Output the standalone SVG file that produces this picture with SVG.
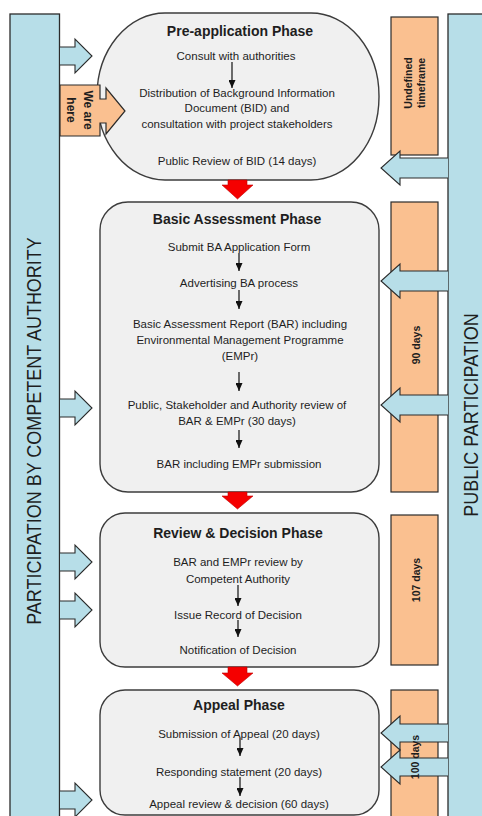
<svg xmlns="http://www.w3.org/2000/svg" width="482" height="816" viewBox="0 0 482 816">
<defs>
<style>
.bar{fill:#b7dee8;stroke:#2b2b2b;stroke-width:1.3}
.ora{fill:#fac090;stroke:#2b2b2b;stroke-width:1.2}
.box{fill:#f0f0f0;stroke:#3c3c3c;stroke-width:1.4}
.barr{fill:#b7dee8;stroke:#2b2b2b;stroke-width:1.1}
.red{fill:#f50000;stroke:#c00000;stroke-width:0.6}
.step{stroke:#111;stroke-width:1.2;fill:none;marker-end:url(#ah)}
text{font-family:"Liberation Sans",Arial,sans-serif;fill:#1e1e1e}
.t{font-size:11.5px;text-anchor:middle}
.h{font-size:14px;font-weight:bold;text-anchor:middle}
.v{font-size:18px;text-anchor:middle}
.d{font-size:10.5px;font-weight:bold;text-anchor:middle}
</style>
<marker id="ah" markerWidth="8" markerHeight="7" refX="8" refY="3.5" orient="auto" markerUnits="userSpaceOnUse" viewBox="0 0 8 7">
<path d="M0,0 L8,3.5 L0,7 Z" fill="#111"/>
</marker>
</defs>

<g id="left-bar">
<rect class="bar" x="10" y="14" width="49.5" height="810"/>
<text class="v" transform="translate(34,431) rotate(-90) scale(1,1.15)" y="6">PARTICIPATION  BY COMPETENT AUTHORITY</text>
</g>
<g id="right-bar">
<rect class="bar" x="448" y="14" width="40" height="810"/>
<text class="v" transform="translate(471,415) rotate(-90) scale(1,1.1)" y="6.3">PUBLIC PARTICIPATION</text>
</g>

<g id="durations">
<g id="dur-pre">
<rect class="ora" x="391" y="17" width="47" height="138"/>
<text class="d" transform="translate(408,83) rotate(-90)" y="4">Undefined</text>
<text class="d" transform="translate(421,83) rotate(-90)" y="4">timeframe</text>
</g>
<g id="dur-basic">
<rect class="ora" x="391" y="202" width="47" height="290"/>
<text class="d" transform="translate(416,345) rotate(-90)" y="4">90 days</text>
</g>
<g id="dur-review">
<rect class="ora" x="391" y="515" width="47" height="150"/>
<text class="d" transform="translate(416,580) rotate(-90)" y="4">107 days</text>
</g>
<g id="dur-appeal">
<rect class="ora" x="391" y="690" width="47" height="135"/>
</g>
</g>

<g id="pre-application">
<rect class="box" x="97" y="13" width="282" height="167" rx="68" ry="83"/>
<text class="h" x="240" y="36">Pre-application Phase</text>
<text class="t" x="236" y="60">Consult with authorities</text>
<text class="t" x="237" y="97">Distribution  of Background Information</text>
<text class="t" x="237" y="112">Document  (BID) and</text>
<text class="t" x="237" y="128">consultation  with project stakeholders</text>
<text class="t" x="237" y="165">Public Review of BID (14 days)</text>
</g>

<g id="basic-assessment">
<rect class="box" x="100" y="202" width="279" height="290" rx="28"/>
<text class="h" x="237" y="224">Basic Assessment  Phase</text>
<text class="t" x="239" y="251">Submit BA Application  Form</text>
<text class="t" x="239" y="287">Advertising  BA process</text>
<text class="t" x="240" y="328">Basic Assessment  Report (BAR) including</text>
<text class="t" x="240" y="344">Environmental  Management Programme</text>
<text class="t" x="240" y="360">(EMPr)</text>
<text class="t" x="237" y="409">Public, Stakeholder and Authority  review of</text>
<text class="t" x="237" y="425">BAR &amp; EMPr (30 days)</text>
<text class="t" x="239" y="468">BAR including EMPr submission</text>
</g>

<g id="review-decision">
<rect class="box" x="100" y="513" width="279" height="154" rx="25"/>
<text class="h" x="238" y="538">Review &amp; Decision  Phase</text>
<text class="t" x="238" y="566">BAR and EMPr  review by</text>
<text class="t" x="238" y="583">Competent  Authority</text>
<text class="t" x="238" y="619">Issue Record of Decision</text>
<text class="t" x="238" y="654">Notification  of Decision</text>
</g>

<g id="appeal">
<rect class="box" x="100" y="690" width="279" height="125" rx="25"/>
<text class="h" x="239" y="710">Appeal Phase</text>
<text class="t" x="239" y="738">Submission  of Appeal  (20 days)</text>
<text class="t" x="239" y="776">Responding statement  (20 days)</text>
<text class="t" x="239" y="808">Appeal review &amp; decision  (60 days)</text>
</g>

<g id="we-are-here">
<path class="ora" d="M60,85 H100 V99 H106 V88 L125,111 L106,134 V123 H100 V136 H60 Z"/>
<text class="d" style="font-size:12px" transform="translate(88,110) rotate(90)" y="4.3">We are</text>
<text class="d" style="font-size:12px" transform="translate(71,110) rotate(90)" y="4.3">here</text>
</g>

<g id="connectors">
<g id="step-arrows">
<line class="step" x1="232" y1="62" x2="232" y2="88"/>
<line class="step" x1="239" y1="253" x2="239" y2="271"/>
<line class="step" x1="239" y1="290" x2="239" y2="309"/>
<line class="step" x1="239" y1="372" x2="239" y2="391"/>
<line class="step" x1="239" y1="430" x2="239" y2="448"/>
<line class="step" x1="238" y1="585" x2="238" y2="606"/>
<line class="step" x1="238" y1="620" x2="238" y2="637"/>
<line class="step" x1="240" y1="738" x2="240" y2="756"/>
<line class="step" x1="240" y1="777" x2="240" y2="796"/>
</g>
<g id="phase-arrows">
<path class="red" d="M228,180 H247 V185 H253 L237.5,199 L222,185 H228 Z"/>
<path class="red" d="M228,492 H247 V496 H253 L237.5,509 L222,496 H228 Z"/>
<path class="red" d="M228,667 H247 V673 H253 L237.5,686 L222,673 H228 Z"/>
</g>
<g id="authority-arrows">
<path class="barr" d="M60,47 H75 V39 L92,56 L75,73 V65 H60"/>
<path class="barr" d="M60,399 H75 V391 L92,408 L75,425 V417 H60"/>
<path class="barr" d="M60,553 H75 V545 L92,562 L75,579 V571 H60"/>
<path class="barr" d="M60,601 H75 V593 L92,610 L75,627 V619 H60"/>
<path class="barr" d="M60,791 H75 V783 L92,800 L75,817 V809 H60"/>
</g>
<g id="public-arrows">
<path class="barr" d="M448,158 H400 V151 L381,168 L400,185 V178 H448"/>
<path class="barr" d="M448,271 H400 V264 L381,281 L400,298 V291 H448"/>
<path class="barr" d="M448,395 H400 V388 L381,405 L400,422 V415 H448"/>
<path class="barr" d="M448,724 H400 V716 L381,733 L400,750 V742 H448"/>
<path class="barr" d="M448,758 H400 V750 L381,767 L400,784 V776 H448"/>
</g>
</g>
<text class="d" transform="translate(415,757) rotate(-90)" y="4">100 days</text>
</svg>
